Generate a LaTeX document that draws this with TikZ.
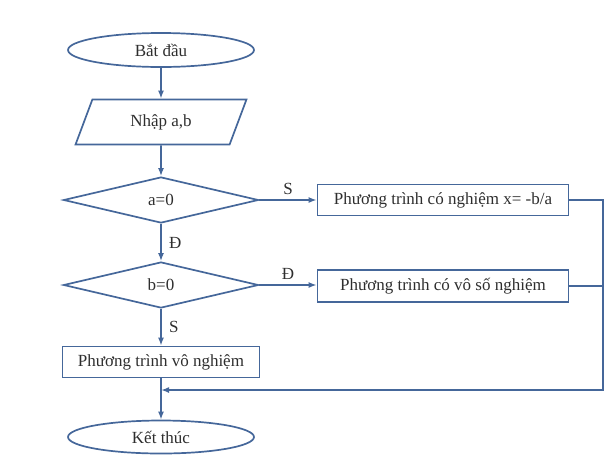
\documentclass[tikz,border=0pt]{standalone}
\usepackage{fontspec}
\setmainfont{Liberation Serif}
\usetikzlibrary{shapes.geometric,arrows.meta}
\definecolor{flowline}{HTML}{45679A}
\definecolor{flowtext}{HTML}{2E2E2E}
\begin{document}
\begin{tikzpicture}[x=1pt,y=-1pt,
    every node/.style={text=flowtext,font=\fontsize{17}{19}\selectfont},
    line/.style={draw=flowline,line width=1.7pt},
    arr/.style={line,-{Latex[length=8pt,width=6pt]}},
    term/.style={ellipse,line,minimum width=186pt,minimum height=34pt,inner sep=0pt},
    inbox/.style={trapezium,trapezium left angle=64,trapezium right angle=116,trapezium stretches=true,line,minimum width=172pt,minimum height=45pt,inner sep=0pt},
    test/.style={diamond,line,minimum width=195pt,minimum height=46pt,inner sep=0pt},
    proc/.style={rectangle,line,minimum height=31pt,inner sep=0pt}]
    \useasboundingbox (0,0) rectangle (609,456);
    \node[term] (start) at (161,50) {Bắt đầu};
    \node[inbox] (input) at (161,122) {Nhập a,b};
    \node[test] (a0) at (161,200) {a=0};
    \node[test] (b0) at (161,285) {b=0};
    \node[proc,minimum width=197pt] (none) at (161,362) {Phương trình vô nghiệm};
    \node[term,minimum height=33pt] (end) at (161,437) {Kết thúc};
    \node[proc,minimum width=251pt] (one) at (443,200) {Phương trình có nghiệm x= -b/a};
    \node[proc,minimum width=251pt,minimum height=32pt] (many) at (443,286) {Phương trình có vô số nghiệm};
    \coordinate (back) at (603,390);
    \coordinate (join) at (161,390);
    \draw[arr] (start) -- (input);
    \draw[arr] (input) -- (a0);
    \draw[arr] (a0) -- node[right=4pt] {Đ} (b0);
    \draw[arr] (b0) -- node[right=4pt] {S} (none);
    \draw[arr] (none) -- (end);
    \draw[arr] (a0.east) -- node[above=1pt] {S} (one.west);
    \draw[arr] (b0.east) -- node[above=1pt] {Đ} (b0.east -| many.west);
    \draw[arr] (one.east) -| (back) -- (join);
    \draw[line] (many.east) -- (many.east -| back);
\end{tikzpicture}
\end{document}
